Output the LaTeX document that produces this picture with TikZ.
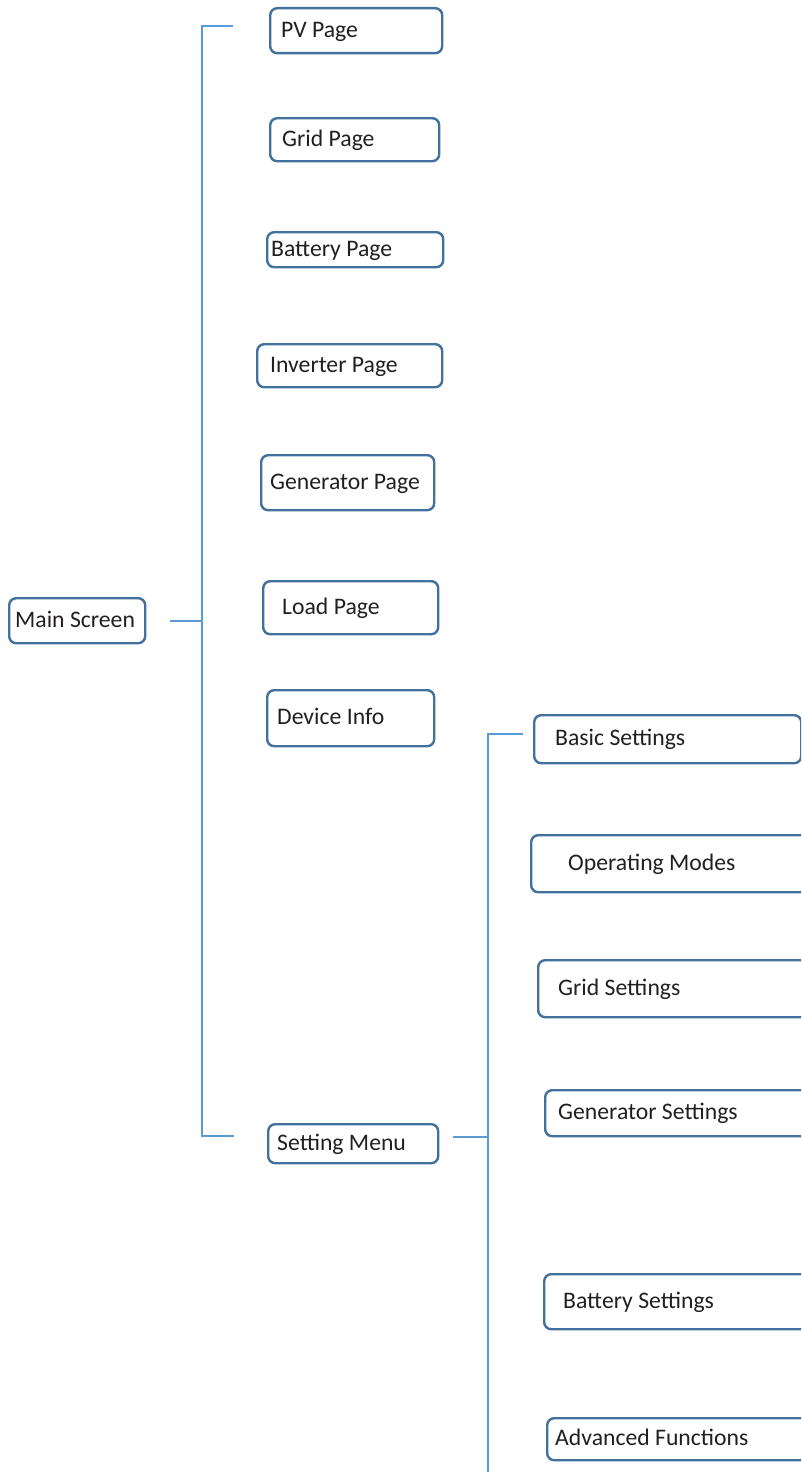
\documentclass[tikz,border=0pt]{standalone}
\usepackage{fontspec}
\setmainfont{Carlito}
\definecolor{boxblue}{HTML}{41719C}
\definecolor{linkblue}{HTML}{5B9BD5}
\definecolor{txt}{HTML}{231F20}
\tikzset{
  box/.style={draw=boxblue, line width=2.4pt, rounded corners=7pt, fill=white, inner sep=0pt, anchor=north west},
  lbl/.style={anchor=west, inner sep=0pt, text height=15.3pt, text depth=0pt, text=txt, font=\fontsize{23.7}{28}\selectfont},
  conn/.style={draw=linkblue, line width=1.4pt}
}
\newcommand{\mybx}[7]{%
  \node[box, minimum width={#4-#2}, minimum height={#5-#3}] (#1) at (#2,#3) {};
  \node[lbl] (#1-t) at ({#6},{(#3+#5)/2}) {#7};
}
\begin{document}
\begin{tikzpicture}[x=1pt,y=-1pt]
\useasboundingbox (0,0) rectangle (801,1472);
\clip (0,0) rectangle (801,1472);
\fill[white] (0,0) rectangle (801,1472);
% connectors
\coordinate (m1) at (170,621);
\coordinate (j1) at (202,621);
\coordinate (t1) at (202,26);
\coordinate (t1e) at (233,26);
\coordinate (b1) at (202,1136);
\coordinate (b1e) at (234,1136);
\coordinate (s1) at (453,1137);
\coordinate (j2) at (488,1137);
\coordinate (t2) at (488,734);
\coordinate (t2e) at (523,734);
\coordinate (b2) at (488,1480);
\draw[conn] (t1e) -- (t1) -- (b1) -- (b1e);
\draw[conn] (m1) -- (j1);
\draw[conn] (t2e) -- (t2) -- (b2);
\draw[conn] (s1) -- (j2);
% boxes
\mybx{ms}{8}{597}{144}{642}{15}{Main Screen}
\mybx{pv}{269}{7}{441}{52}{281}{PV Page}
\mybx{grid}{269}{117}{438}{160}{282}{Grid Page}
\mybx{bat}{266}{231}{442}{266}{271}{Battery Page}
\mybx{inv}{256}{343}{441}{386}{270}{Inverter Page}
\mybx{gen}{260}{454}{433}{509}{270}{Generator Page}
\mybx{load}{262}{580}{437}{633}{282}{Load Page}
\mybx{dev}{266}{689}{433}{745}{277}{Device Info}
\mybx{set}{267}{1123}{437}{1162}{277}{Setting Menu}
\mybx{basic}{533}{714}{800}{762}{555}{Basic Settings}
\mybx{op}{530}{834}{820}{891}{568}{Operating Modes}
\mybx{gs}{537}{959}{820}{1016}{558}{Grid Settings}
\mybx{gens}{544}{1089}{820}{1135}{558}{Generator Settings}
\mybx{bs}{543}{1273}{820}{1328}{563}{Battery Settings}
\mybx{adv}{546}{1417}{820}{1459}{555}{Advanced Functions}
\end{tikzpicture}
\end{document}
